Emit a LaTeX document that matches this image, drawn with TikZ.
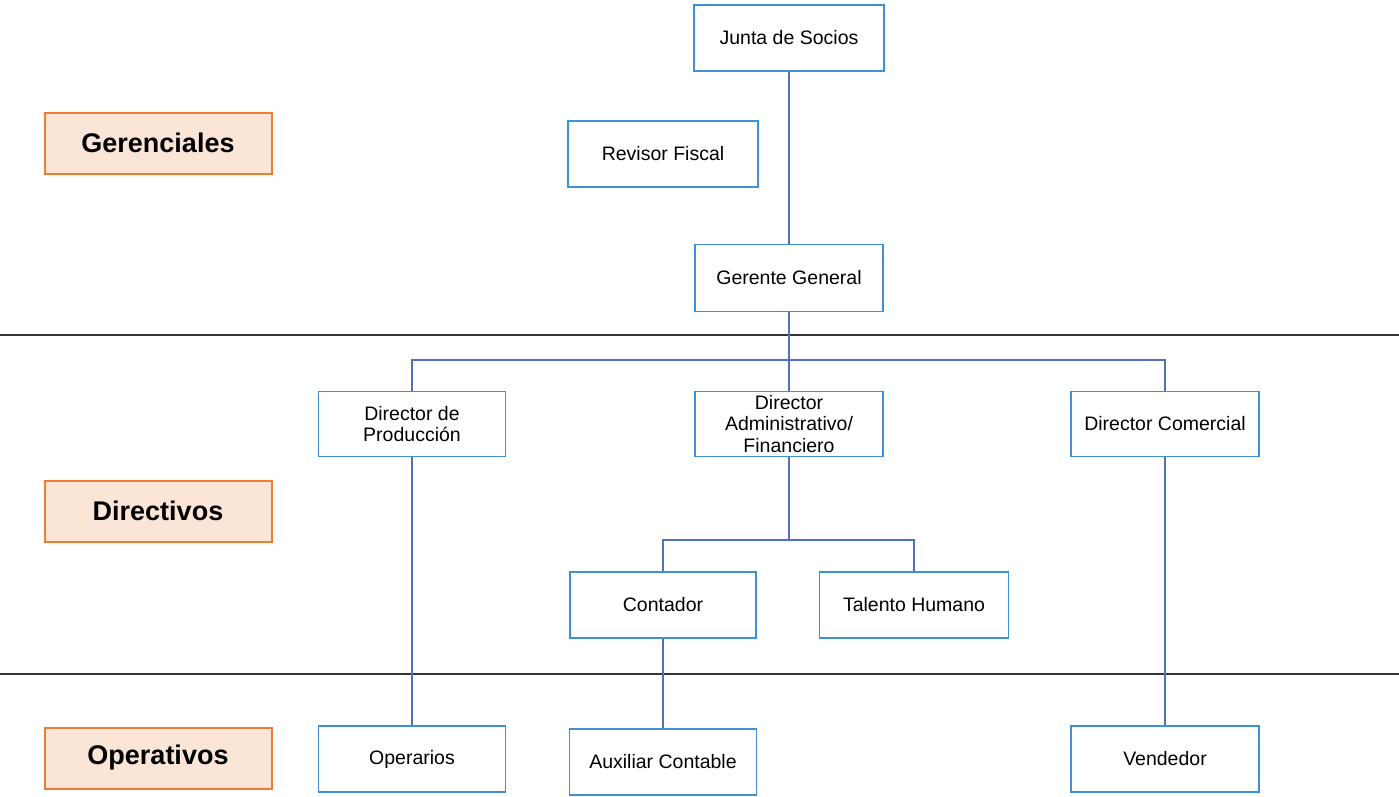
\documentclass[tikz,border=0pt]{standalone}
\usepackage{fontspec}
\setmainfont{Liberation Sans}
\usepackage{xcolor}
\definecolor{boxblue}{RGB}{62,145,210}
\definecolor{linkblue}{RGB}{82,112,186}
\definecolor{levelorange}{RGB}{237,125,49}
\definecolor{levelfill}{RGB}{251,229,214}

\tikzset{
    cargo/.style={draw=boxblue, line width=1.6pt, fill=white,
        minimum width=188pt, minimum height=66pt, inner sep=2pt,
        align=center, font=\fontsize{19.5}{21.5}\selectfont},
    nivel/.style={draw=levelorange, line width=2pt, fill=levelfill,
        minimum width=227pt, minimum height=61pt,
        font=\fontsize{27}{32}\selectfont\bfseries},
    enlace/.style={draw=linkblue, line width=1.4pt},
    franja/.style={draw=black!80, line width=1.3pt}
}

\begin{document}
\begin{tikzpicture}[x=1pt,y=-1pt]
\useasboundingbox (0,0) rectangle (1399,796);

% separadores de niveles
\coordinate (f1a) at (0,335);
\coordinate (f1b) at (1399,335);
\coordinate (f2a) at (0,674);
\coordinate (f2b) at (1399,674);
\draw[franja] (f1a) -- (f1b);
\draw[franja] (f2a) -- (f2b);

% niveles
\node[nivel] (gerenciales) at (158,143) {Gerenciales};
\node[nivel] (directivos) at (158,511) {Directivos};
\node[nivel] (operativos) at (158,758) {Operativos};

% cargos
\node[cargo, minimum width=190pt] (junta) at (789,38) {Junta de Socios};
\node[cargo, minimum width=190pt] (revisor) at (663,154) {Revisor Fiscal};
\node[cargo, minimum height=67pt] (gerente) at (789,278) {Gerente General};

\node[cargo, minimum width=187pt, minimum height=65pt] (produccion) at (412,424) {Director de\\Producción};
\node[cargo, minimum height=65pt] (admin) at (789,424) {Director\\Administrativo/\\Financiero};
\node[cargo, minimum height=65pt] (comercial) at (1165,424) {Director Comercial};

\node[cargo, minimum width=186pt] (contador) at (663,605) {Contador};
\node[cargo, minimum width=189pt] (talento) at (914,605) {Talento Humano};

\node[cargo, minimum width=187pt] (operarios) at (412,759) {Operarios};
\node[cargo, minimum width=187pt] (auxiliar) at (663,762) {Auxiliar Contable};
\node[cargo] (vendedor) at (1165,759) {Vendedor};

% enlaces
\coordinate (barraA) at (789,360);
\coordinate (barraB) at (789,540);
\draw[enlace] (junta.south) -- (gerente.north);
\draw[enlace] (gerente.south) -- (barraA);
\draw[enlace] (produccion.north) |- (barraA) -| (comercial.north);
\draw[enlace] (barraA) -- (admin.north);
\draw[enlace] (admin.south) -- (barraB);
\draw[enlace] (contador.north) |- (barraB) -| (talento.north);
\draw[enlace] (produccion.south) -- (operarios.north);
\draw[enlace] (contador.south) -- (auxiliar.north);
\draw[enlace] (comercial.south) -- (vendedor.north);
\end{tikzpicture}
\end{document}
